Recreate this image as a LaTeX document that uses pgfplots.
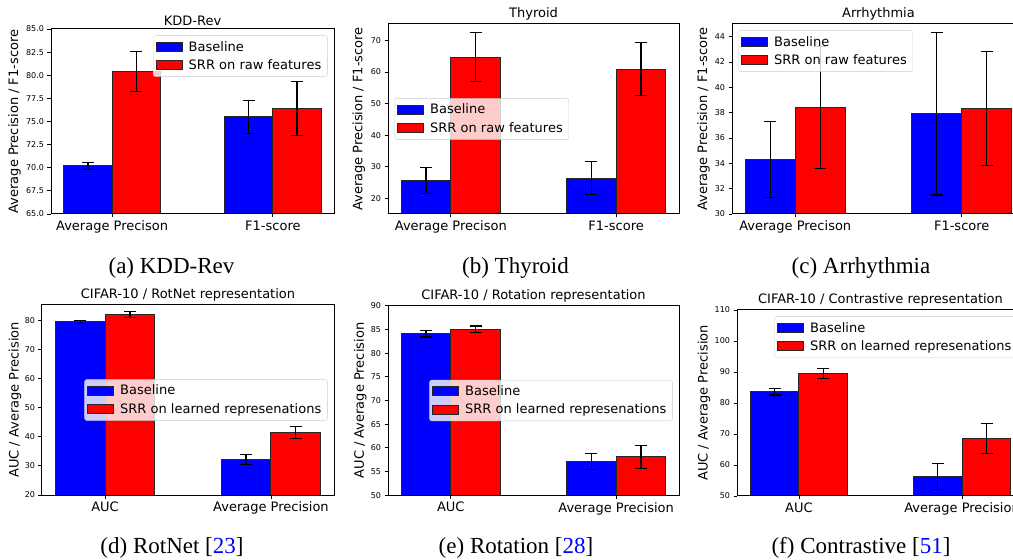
\documentclass[border=0pt]{standalone}
\usepackage{fontspec}
\setmainfont{DejaVu Sans}
\newfontfamily\capfont{Liberation Serif}
\usepackage{pgfplots}
\pgfplotsset{compat=1.18}

\newcommand\plotfont{\fontsize{13}{15}\selectfont}
\newcommand\tickfont{\fontsize{8}{9}\selectfont}

\pgfplotsset{
  panel/.style={
    scale only axis, anchor=north west, axis on top,
    xmin=-0.38, xmax=1.38, xtick={0,1},
    enlargelimits=false,
    axis line style={black, line width=1pt},
    tick style={black, line width=0.9pt},
    major tick length=3.5pt, tick align=outside, tick pos=left,
    /pgf/number format/assume math mode=true,
    x tick label style={font=\plotfont},
    y tick label style={font=\tickfont},
    title style={font=\plotfont}, every axis title shift=0pt,
    ylabel style={font=\plotfont, anchor=south, inner sep=0pt},
    legend cell align=left,
    legend image code/.code={
      \path[draw=none, fill=none] (0pt,0pt) -- (29pt,0pt);
      \path[#1, sharp corners, fill opacity=1, draw opacity=1, draw=black!85] (0pt,-4.5pt) rectangle (26pt,4.5pt);},
    legend style={draw=black!20, fill=white, fill opacity=0.8, draw opacity=1,
      text opacity=1, rounded corners=2pt, font=\plotfont,
      inner xsep=2.5pt, inner ysep=2pt, row sep=0pt, nodes={inner sep=3.5pt}},
  },
  bl/.style={ybar, bar width=0.3, bar shift=0pt, fill=blue, draw=black!85, line width=1pt,
    error bars/y dir=both, error bars/y explicit, error bars/error mark=|,
    error bars/error bar style={black, line width=1.2pt},
    error bars/error mark options={black, line width=1.2pt, mark size=6pt}},
  rd/.style={bl, fill=red},
}

\begin{document}
\begin{tikzpicture}
\useasboundingbox (0,0) rectangle (1013pt,560pt);

% (a) KDD-Rev
\begin{axis}[panel, at={(51pt,531pt)}, width=283pt, height=185pt,
  ymin=65, ymax=85, ytick={65,67.5,...,85},
  yticklabel style={/pgf/number format/.cd, fixed, fixed zerofill, precision=1},
  xticklabels={Average Precison, F1-score},
  title={KDD-Rev}, ylabel={Average Precision / F1-score},
  ylabel style={at={(axis description cs:-0.106,0.5)}},
  legend style={at={(1,1)}, anchor=north east, xshift=-6.5pt, yshift=-6.5pt}]
\addplot[bl] coordinates {(-0.15,70.2) +- (0,0.4) (0.85,75.5) +- (0,1.8)};
\addlegendentry{Baseline}
\addplot[rd] coordinates {(0.15,80.4) +- (0,2.2) (1.15,76.4) +- (0,2.9)};
\addlegendentry{SRR on raw features}
\end{axis}

% (b) Thyroid
\begin{axis}[panel, at={(388pt,536pt)}, width=291pt, height=190pt,
  ymin=15, ymax=75.2, ytick={20,30,...,70},
  xticklabels={Average Precison, F1-score},
  title={Thyroid}, ylabel={Average Precision / F1-score},
  ylabel style={at={(axis description cs:-0.078,0.5)}},
  legend style={at={(0,0.5)}, anchor=west, xshift=6.5pt}]
\addplot[bl] coordinates {(-0.15,25.7) +- (0,4.15) (0.85,26.4) +- (0,5.15)};
\addlegendentry{Baseline}
\addplot[rd] coordinates {(0.15,64.7) +- (0,7.75) (1.15,60.9) +- (0,8.35)};
\addlegendentry{SRR on raw features}
\end{axis}

% (c) Arrhythmia
\begin{axis}[panel, at={(732pt,536pt)}, width=293pt, height=190pt,
  ymin=30, ymax=45, ytick={30,32,...,44},
  xticklabels={Average Precison, F1-score},
  title={Arrhythmia}, ylabel={Average Precision / F1-score},
  ylabel style={at={(axis description cs:-0.075,0.5)}},
  legend style={at={(0,1)}, anchor=north west, xshift=6.5pt, yshift=-6.5pt}]
\addplot[bl] coordinates {(-0.15,34.3) +- (0,3.0) (0.85,37.9) +- (0,6.4)};
\addlegendentry{Baseline}
\addplot[rd] coordinates {(0.15,38.4) +- (0,4.8) (1.15,38.3) +- (0,4.5)};
\addlegendentry{SRR on raw features}
\end{axis}

% (d) RotNet
\begin{axis}[panel, at={(42pt,255pt)}, width=292pt, height=190pt,
  ymin=20, ymax=85.2, ytick={20,30,...,80},
  xticklabels={AUC, Average Precision},
  title={CIFAR-10 / RotNet representation}, ylabel={AUC / Average Precision},
  ylabel style={at={(axis description cs:-0.070,0.5)}},
  legend style={at={(1,0.5)}, anchor=east, xshift=-6.5pt}]
\addplot[bl] coordinates {(-0.15,79.4) +- (0,0.6) (0.85,32.3) +- (0,1.7)};
\addlegendentry{Baseline}
\addplot[rd] coordinates {(0.15,81.9) +- (0,1.0) (1.15,41.5) +- (0,2.1)};
\addlegendentry{SRR on learned represenations}
\end{axis}

% (e) Rotation
\begin{axis}[panel, at={(388pt,254.3pt)}, width=291pt, height=189.6pt,
  ymin=50, ymax=90, ytick={50,55,...,90},
  xticklabels={AUC, Average Precision},
  title={CIFAR-10 / Rotation representation}, ylabel={AUC / Average Precision},
  ylabel style={at={(axis description cs:-0.073,0.5)}},
  legend style={at={(1,0.5)}, anchor=east, xshift=-6.5pt}]
\addplot[bl] coordinates {(-0.15,84.1) +- (0,0.7) (0.85,57.1) +- (0,1.7)};
\addlegendentry{Baseline}
\addplot[rd] coordinates {(0.15,85.0) +- (0,0.7) (1.15,58.1) +- (0,2.4)};
\addlegendentry{SRR on learned represenations}
\end{axis}

% (f) Contrastive
\begin{axis}[panel, at={(737pt,250pt)}, width=287pt, height=186pt,
  ymin=50, ymax=110, ytick={50,60,...,110},
  xticklabels={AUC, Average Precision},
  title={CIFAR-10 / Contrastive representation}, ylabel={AUC / Average Precision},
  ylabel style={at={(axis description cs:-0.092,0.5)}},
  legend style={at={(1,1)}, anchor=north east, xshift=-6.5pt, yshift=-6.5pt}]
\addplot[bl] coordinates {(-0.15,83.6) +- (0,1.0) (0.85,56.4) +- (0,4.2)};
\addlegendentry{Baseline}
\addplot[rd] coordinates {(0.15,89.5) +- (0,1.7) (1.15,68.5) +- (0,4.9)};
\addlegendentry{SRR on learned represenations}
\end{axis}

% sub-captions
\begin{scope}[every node/.style={anchor=base, font=\capfont\fontsize{23}{27}\selectfont, inner sep=0pt}]
\node at (171.5pt,286pt) {(a) KDD-Rev};
\node at (515.5pt,286pt) {(b) Thyroid};
\node at (861pt,286pt) {(c) Arrhythmia};
\node at (172pt,6pt) {(d) RotNet [{\color{blue}23}]};
\node at (516pt,6pt) {(e) Rotation [{\color{blue}28}]};
\node at (861pt,6pt) {(f) Contrastive [{\color{blue}51}]};
\end{scope}
\end{tikzpicture}
\end{document}
